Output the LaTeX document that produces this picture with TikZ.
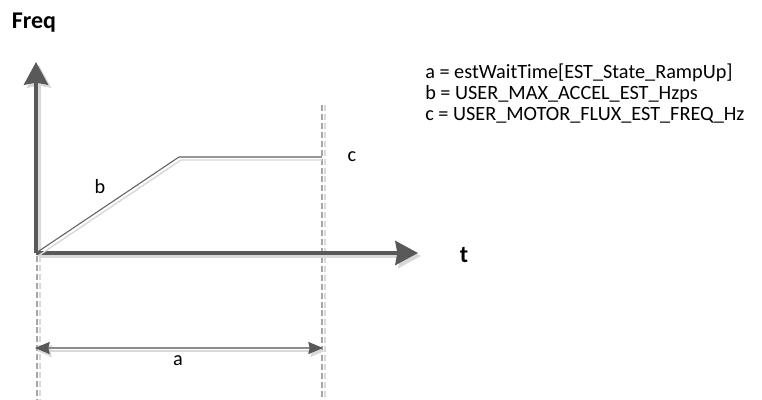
\documentclass[tikz,border=0pt]{standalone}
\usepackage{fontspec}
\setmainfont{Carlito}
\usepackage{tikz}
\usetikzlibrary{arrows.meta}
\definecolor{axisGrey}{HTML}{595959}
\definecolor{rampGrey}{HTML}{5F5F5F}
\definecolor{shadeGrey}{HTML}{D9D9D9}
\definecolor{dashGrey}{HTML}{A6A6A6}
\definecolor{dimGrey}{HTML}{8C8C8C}
\tikzset{
  axis/.style     = {draw=axisGrey, line width=3pt, -{Stealth[length=17pt, width=18pt, inset=1.5pt]}},
  axisshade/.style= {draw=shadeGrey, line width=3pt, -{Stealth[length=17pt, width=18pt, inset=1.5pt]}},
  ramp/.style     = {draw=rampGrey, line width=0.8pt},
  rampshade/.style= {draw=shadeGrey, line width=1.1pt},
  guide/.style    = {draw=dashGrey, line width=0.9pt, dash pattern=on 4.5pt off 2.2pt},
  guideshade/.style={draw=shadeGrey, line width=0.9pt, dash pattern=on 4.5pt off 2.2pt},
  dim/.style      = {draw=dimGrey, line width=1.4pt,
                     {Stealth[length=11pt, width=9pt, inset=1pt, color=axisGrey]}-{Stealth[length=11pt, width=9pt, inset=1pt, color=axisGrey]}},
  dimshade/.style = {draw=shadeGrey, line width=1.4pt,
                     {Stealth[length=11pt, width=9pt, inset=1pt]}-{Stealth[length=11pt, width=9pt, inset=1pt]}},
  lbl/.style      = {font=\fontsize{15.2}{15.2}\selectfont, inner sep=0pt},
  big/.style      = {font=\fontsize{18}{18}\selectfont\bfseries, inner sep=0pt}
}

\begin{document}
\begin{tikzpicture}[x=0.75pt, y=-0.75pt]
  \useasboundingbox (0,0) rectangle (762,399);

  % points of the plot
  \coordinate (o)    at (36,253);
  \coordinate (ytip) at (36,62);
  \coordinate (xtip) at (418,253);
  \coordinate (knee) at (179,157);
  \coordinate (plat) at (322,157);
  \coordinate (gLtop) at (37,256);
  \coordinate (gLbot) at (37,399);
  \coordinate (gRtop) at (322,105);
  \coordinate (gRbot) at (322,399);
  \coordinate (dL) at (35,348);
  \coordinate (dR) at (323,348);

  % guide lines
  \draw[guideshade] ([shift={(3,0)}]gLtop) -- ([shift={(3,0)}]gLbot);
  \draw[guideshade] ([shift={(3,0)}]gRtop) -- ([shift={(3,0)}]gRbot);
  \draw[guide] (gLtop) -- (gLbot);
  \draw[guide] (gRtop) -- (gRbot);

  % axes
  \draw[axisshade] ([shift={(3,3)}]o) -- ([shift={(3,3)}]ytip);
  \draw[axisshade] ([shift={(3,3)}]o) -- ([shift={(3,3)}]xtip);
  \draw[axis] (o) -- (ytip);
  \draw[axis] (o) -- (xtip);

  % ramp
  \draw[rampshade] ([shift={(2,3)}]o) -- ([shift={(2,3)}]knee) -- ([shift={(0,3)}]plat);
  \draw[ramp] (o) -- (knee) -- (plat);

  % wait time
  \draw[dimshade] ([shift={(2,3)}]dL) -- ([shift={(2,3)}]dR);
  \draw[dim] (dL) -- (dR);

  % labels
  \node[big] (freq) at (34,23) {Freq};
  \node[big] (tlbl) at (464,255) {t};
  \node[lbl] (lblb) at (100,187) {b};
  \node[lbl] (lblc) at (352,157) {c};
  \node[lbl] (lbla) at (178,361) {a};

  % legend
  \foreach \n/\txt [count=\i from 0] in {
      legA/{a = estWaitTime[EST\_State\_RampUp]},
      legB/{b = USER\_MAX\_ACCEL\_EST\_Hzps},
      legC/{c = USER\_MOTOR\_FLUX\_EST\_FREQ\_Hz}}
    \node[lbl, anchor=base west] (\n) at (425,{79+20.7*\i}) {\txt};
\end{tikzpicture}
\end{document}
